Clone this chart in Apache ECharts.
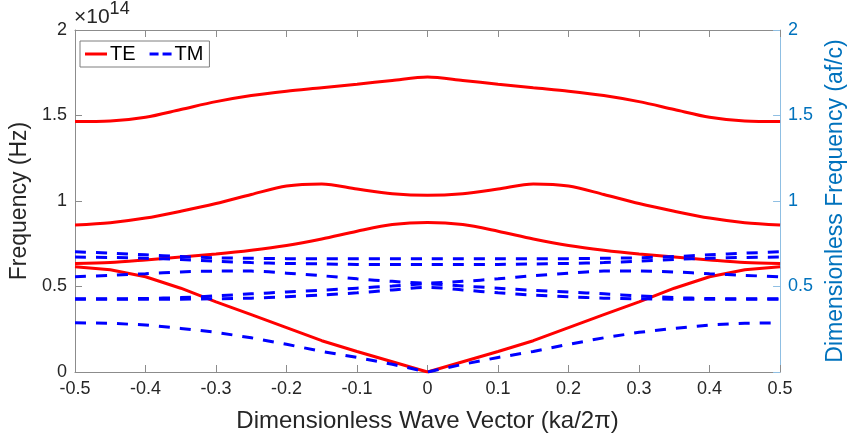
<!DOCTYPE html>
<html>
<head>
<meta charset="utf-8">
<script src="https://cdn.jsdelivr.net/npm/echarts@6/dist/echarts.min.js"></script>
<style>
  html, body { margin: 0; padding: 0; background: #fff; }
  #chart { width: 855px; height: 442px; }
</style>
</head>
<body>
<div id="chart"></div>
<script>
// wave vector samples (ka/2pi)
const kValues = [-0.5, -0.45, -0.4, -0.35, -0.3, -0.25, -0.2, -0.15, -0.1, -0.05, 0,
                 0.05, 0.1, 0.15, 0.2, 0.25, 0.3, 0.35, 0.4, 0.45, 0.5];
const xTicks = [-0.5, -0.4, -0.3, -0.2, -0.1, 0, 0.1, 0.2, 0.3, 0.4, 0.5];
const yTicks = [0, 0.5, 1, 1.5, 2];

// TE bands (x 1e14 Hz)
const te1 = [0.615, 0.598, 0.557, 0.49, 0.41, 0.335, 0.26, 0.183, 0.12, 0.06, 0,
             0.06, 0.12, 0.183, 0.26, 0.335, 0.41, 0.49, 0.557, 0.598, 0.615];
const te2 = [0.635, 0.64, 0.655, 0.672, 0.69, 0.712, 0.74, 0.778, 0.823, 0.862, 0.875,
             0.862, 0.823, 0.778, 0.74, 0.712, 0.69, 0.672, 0.655, 0.64, 0.635];
const te3 = [0.86, 0.873, 0.9, 0.94, 0.985, 1.038, 1.088, 1.1, 1.07, 1.043, 1.033,
             1.043, 1.07, 1.1, 1.088, 1.038, 0.985, 0.94, 0.9, 0.873, 0.86];
const te4 = [1.465, 1.468, 1.49, 1.535, 1.581, 1.617, 1.642, 1.662, 1.683, 1.705, 1.725,
             1.705, 1.683, 1.662, 1.642, 1.617, 1.581, 1.535, 1.49, 1.468, 1.465];

// TM bands
const tm1 = [0.288, 0.285, 0.275, 0.255, 0.232, 0.2, 0.162, 0.12, 0.085, 0.045, 0,
             0.045, 0.085, 0.12, 0.162, 0.2, 0.232, 0.255, 0.275, 0.285, 0.288];
const tm2 = [0.425, 0.425, 0.425, 0.426, 0.428, 0.432, 0.44, 0.45, 0.463, 0.48, 0.495,
             0.48, 0.463, 0.45, 0.44, 0.432, 0.428, 0.426, 0.425, 0.425, 0.425];
const tm3 = [0.428, 0.428, 0.43, 0.435, 0.445, 0.457, 0.468, 0.478, 0.49, 0.503, 0.515,
             0.503, 0.49, 0.478, 0.468, 0.457, 0.445, 0.435, 0.43, 0.428, 0.428];
const tm4 = [0.557, 0.565, 0.575, 0.585, 0.59, 0.59, 0.578, 0.563, 0.545, 0.53, 0.52,
             0.53, 0.545, 0.563, 0.578, 0.59, 0.59, 0.585, 0.575, 0.565, 0.557];
const tm5 = [0.672, 0.67, 0.665, 0.658, 0.648, 0.64, 0.635, 0.632, 0.629, 0.628, 0.628,
             0.628, 0.629, 0.632, 0.635, 0.64, 0.648, 0.658, 0.665, 0.67, 0.672];
const tm6 = [0.703, 0.695, 0.685, 0.675, 0.668, 0.665, 0.663, 0.662, 0.662, 0.662, 0.662,
             0.662, 0.662, 0.662, 0.663, 0.665, 0.668, 0.675, 0.685, 0.695, 0.703];

const teBands = [te1, te2, te3, te4];
const tmBands = [tm1, tm2, tm3, tm4, tm5, tm6];

const FONT = 'Liberation Sans, Arial, sans-serif';
const AXIS_GRAY = '#8c8c8c';
const TEXT = '#262626';
const BLUE_AXIS = '#0072BD';

function pairs(vals) {
  return kValues.map((k, i) => [k, vals[i]]);
}

const chart = echarts.init(document.getElementById('chart'), null, { renderer: 'canvas' });

const series = [];
teBands.forEach((b, i) => {
  series.push({
    name: 'TE', type: 'line', data: pairs(b), symbol: 'none',
    smooth: i === 0 ? false : 0.3,
    lineStyle: { color: '#ff0000', width: 3 }, itemStyle: { color: '#ff0000' }, z: 2
  });
});
tmBands.forEach((b, i) => {
  series.push({
    name: 'TM', type: 'line', data: pairs(b), symbol: 'none',
    smooth: i === 0 ? false : 0.3,
    lineStyle: { color: '#0000ff', width: 3, type: [11, 10] }, itemStyle: { color: '#0000ff' }, z: 3
  });
});

chart.setOption({
  animation: false,
  grid: { left: 73, right: 67, top: 30, bottom: 70, containLabel: false },
  legend: {
    data: [
      { name: 'TE', icon: 'rect' },
      { name: 'TM', icon: 'path://M0 0H9V3H0Z M13 0H22V3H13Z' }
    ],
    left: 80, top: 41,
    orient: 'horizontal',
    itemWidth: 22, itemHeight: 3, itemGap: 14,
    padding: [3, 6, 3, 5],
    borderColor: '#7f7f7f', borderWidth: 1, borderRadius: 0,
    backgroundColor: '#fff',
    itemStyle: { borderWidth: 0 },
    textStyle: { fontFamily: FONT, fontSize: 20, color: '#000', padding: [0, 0, 0, -2] }
  },
  graphic: [{
    type: 'text', left: 74, top: 0,
    style: {
      text: '{a|×10}{b|14}',
      rich: {
        a: { fontFamily: FONT, fontSize: 21, fill: TEXT, verticalAlign: 'bottom', lineHeight: 28 },
        b: { fontFamily: FONT, fontSize: 18, fill: TEXT, verticalAlign: 'top', lineHeight: 28, padding: [0, 0, 10, 0] }
      }
    }
  }],
  xAxis: [{
    type: 'value', min: -0.5, max: 0.5, interval: 0.1, position: 'bottom',
    name: 'Dimensionless Wave Vector (ka/2π)', nameLocation: 'middle', nameGap: 37,
    nameTextStyle: { fontFamily: FONT, fontSize: 24, color: TEXT },
    axisLine: { show: true, onZero: false, lineStyle: { color: AXIS_GRAY, width: 1 } },
    axisTick: { show: true, inside: true, length: 7, lineStyle: { color: AXIS_GRAY } },
    axisLabel: {
      fontFamily: FONT, fontSize: 18, color: TEXT, margin: 8,
      formatter: (v) => { const t = xTicks.find((x) => Math.abs(x - v) < 1e-9); return t === undefined ? '' : String(t); }
    },
    splitLine: { show: false }
  }, {
    type: 'value', min: -0.5, max: 0.5, interval: 0.1, position: 'top',
    axisLine: { show: true, onZero: false, lineStyle: { color: AXIS_GRAY, width: 1 } },
    axisTick: { show: true, inside: true, length: 7, lineStyle: { color: AXIS_GRAY } },
    axisLabel: { show: false },
    splitLine: { show: false }
  }],
  yAxis: [{
    type: 'value', min: 0, max: 2, interval: 0.5, position: 'left',
    name: 'Frequency (Hz)', nameLocation: 'middle', nameGap: 44,
    nameTextStyle: { fontFamily: FONT, fontSize: 23, color: TEXT },
    axisLine: { show: true, onZero: false, lineStyle: { color: AXIS_GRAY, width: 1 } },
    axisTick: { show: true, inside: true, length: 7, lineStyle: { color: AXIS_GRAY } },
    axisLabel: {
      fontFamily: FONT, fontSize: 18, color: TEXT, margin: 8,
      formatter: (v) => { const t = yTicks.find((y) => Math.abs(y - v) < 1e-9); return t === undefined ? '' : String(t); }
    },
    splitLine: { show: false }
  }, {
    type: 'value', min: 0, max: 2, interval: 0.5, position: 'right',
    name: 'Dimensionless Frequency (af/c)', nameLocation: 'middle', nameGap: 40,
    nameTextStyle: { fontFamily: FONT, fontSize: 23, color: BLUE_AXIS },
    axisLine: { show: true, onZero: false, lineStyle: { color: '#8fbfe3', width: 1 } },
    axisTick: { show: true, inside: true, length: 7, lineStyle: { color: '#8fbfe3' } },
    axisLabel: {
      fontFamily: FONT, fontSize: 18, color: BLUE_AXIS, margin: 8,
      formatter: (v) => (v === 0 ? '' : String(v))
    },
    splitLine: { show: false }
  }],
  series: series
});

window.addEventListener('resize', () => chart.resize());
</script>
</body>
</html>
